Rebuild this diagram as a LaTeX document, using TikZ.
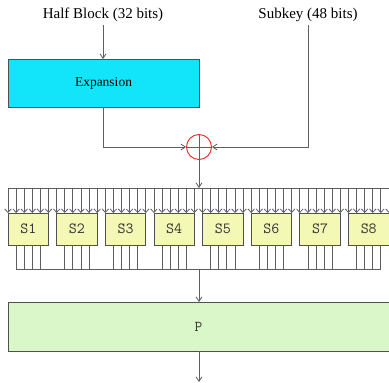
\documentclass[tikz,border=0pt]{standalone}
\usepackage{fontspec}
\setmainfont{Liberation Serif}
\usetikzlibrary{arrows.meta}
\definecolor{linegray}{HTML}{5E5E5E}
\definecolor{boxborder}{HTML}{505050}
\definecolor{expcyan}{HTML}{12E4FA}
\definecolor{sboxfill}{HTML}{F3F8B4}
\definecolor{pfill}{HTML}{D9F7C9}
\definecolor{xorred}{HTML}{F22424}
\definecolor{labgray}{HTML}{333333}
\begin{document}
\begin{tikzpicture}[x=1pt,y=-1pt,
  wire/.style={draw=linegray,line width=0.8pt},
  arr/.style={wire,-{Straight Barb[length=4.5pt,width=6pt]}},
  sarr/.style={wire,-{Straight Barb[length=3.5pt,width=6.5pt]}},
  box/.style={draw=boxborder,line width=0.8pt,inner sep=0pt,outer sep=0pt},
  title/.style={font=\fontsize{15}{18}\selectfont,inner sep=3pt},
  sbox/.style={box,fill=sboxfill,minimum width=40.5pt,minimum height=32pt,text=labgray,font=\ttfamily\fontsize{15.5}{17}\selectfont}
]
\useasboundingbox (0,0) rectangle (389,383);
\pgfmathsetmacro\p{381/47}

\node[title] (hb) at (103,15) {Half Block (32 bits)};
\node[title] (sk) at (308,15) {Subkey (48 bits)};
\node[box,fill=expcyan,minimum width=191pt,minimum height=48pt,font=\fontsize{13.5}{16}\selectfont] (exp) at (103.5,83) {Expansion};
\node[circle,draw=xorred,line width=0.9pt,minimum size=25pt,inner sep=0pt] (xor) at (199,147) {};
\draw[xorred,line width=0.9pt] (xor.north) -- (xor.south) (xor.west) -- (xor.east);

\draw[arr] (hb.south) -- (hb.south |- exp.north);
\draw[arr] (sk.south) |- (xor.east);
\draw[arr] (exp.south) |- (xor.west);

\coordinate (busL) at (8,188);
\coordinate (busR) at (389,188);
\draw[wire] (busL) -- (busR);
\draw[arr] (xor.south) -- (xor.south |- busL);

\foreach \k [evaluate=\k as \n using int(\k+1)] in {0,...,7} {
  \pgfmathsetmacro\cx{8+(6*\k+2.5)*\p}
  \node[sbox] (S\n) at (\cx,229) {S\n};
  \foreach \j in {0,...,5} {
    \pgfmathsetmacro\xx{8+(6*\k+\j)*\p}
    \coordinate (in\k\j) at (\xx,188);
    \draw[sarr] (in\k\j) -- (in\k\j |- S\n.north);
  }
  \foreach \j in {1,...,4} {
    \pgfmathsetmacro\xx{8+(6*\k+\j)*\p}
    \coordinate (ou\k\j) at (\xx,269);
    \draw[wire] (S\n.south -| ou\k\j) -- (ou\k\j);
  }
}
\draw[wire] (ou01) -- (ou74);
\coordinate (bbM) at (199,269);
\node[box,fill=pfill,minimum width=381pt,minimum height=49pt,text=labgray,font=\ttfamily\fontsize{15}{17}\selectfont] (P) at (198.5,326.5) {P};
\draw[arr] (bbM) -- (bbM |- P.north);
\coordinate (out) at (199,382);
\draw[arr] (P.south -| out) -- (out);
\end{tikzpicture}
\end{document}
